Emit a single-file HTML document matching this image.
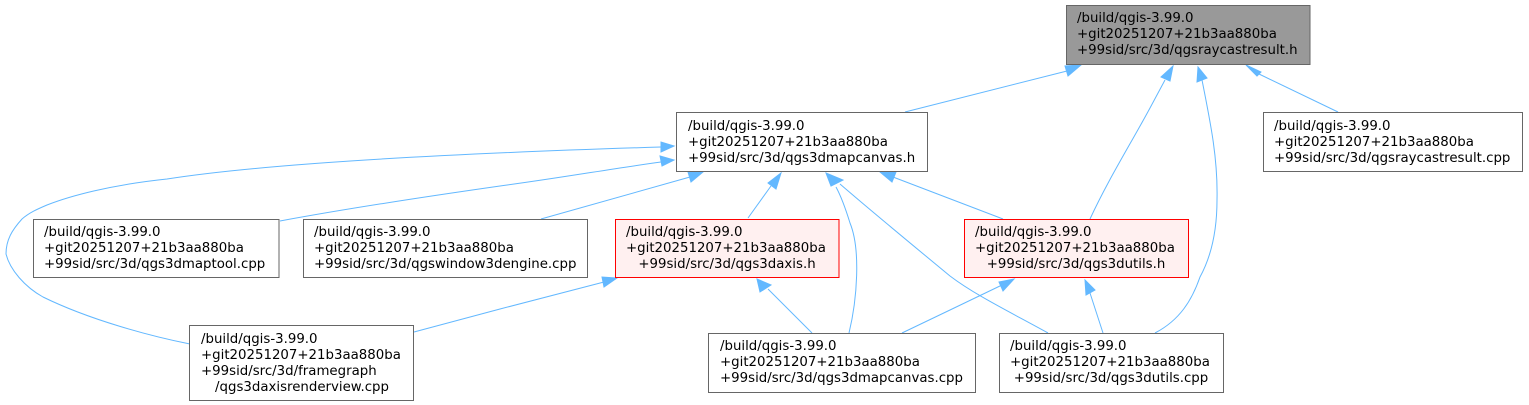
<!DOCTYPE html>
<html>
<head>
<meta charset="utf-8">
<style>
html,body{margin:0;padding:0;background:#fff;}
svg{display:block;}
text{font-family:"DejaVu Sans",sans-serif;font-size:13.33px;fill:#000;}
.b{fill:#fff;stroke:#666;stroke-width:1;}
.r{fill:#fff0f0;stroke:#f00;stroke-width:1;}
.g{fill:#999;stroke:#666;stroke-width:1;}
.e{fill:none;stroke:#63b8ff;stroke-width:1;}
.a{fill:#63b8ff;stroke:#63b8ff;stroke-width:1;}
</style>
</head>
<body>
<svg width="1529" height="405" viewBox="0 0 1529 405" xmlns="http://www.w3.org/2000/svg">
<rect x="0" y="0" width="1529" height="405" fill="#fff"/>

<!-- edges -->
<path class="e" d="M905,112 L1067,71"/>
<polygon class="a" points="1081,65 1068,76 1065,66"/>

<path class="e" d="M1090,219 C1108,180 1130,145 1150,108 L1165,80"/>
<polygon class="a" points="1173,66 1170,81 1161,77"/>

<path class="e" d="M1155,333 C1180,320 1192,300 1200,277 C1212,255 1217,230 1217,200 C1218,160 1211,125 1202,80"/>
<polygon class="a" points="1198,67 1207,78 1197,82"/>

<path class="e" d="M1338,112 L1259,74"/>
<polygon class="a" points="1246,65 1261,72 1257,76"/>

<path class="e" d="M280,221 C350,208 430,196 500,186 C560,178 610,169 661,162"/>
<polygon class="a" points="674,160 662,166 660,156"/>

<path class="e" d="M190,344 C150,336 90,320 43,297 C25,287 10,270 6,254 C6,240 12,230 22,219 C30,212 40,208 47,205 C70,196 110,185 167,179 C250,166 400,155 661,147"/>
<polygon class="a" points="674,146 661,152 661,142"/>

<path class="e" d="M541,219 L690,177"/>
<polygon class="a" points="703,172 691,182 688,172"/>

<path class="e" d="M748,218 L771,186"/>
<polygon class="a" points="781,173 776,189 768,183"/>

<path class="e" d="M849,333 C857,300 861,250 850,223 C846,210 842,198 836,187"/>
<path class="e" d="M1048,333 C1010,312 975,295 950,276 C910,243 870,210 840,184"/>
<polygon class="a" points="826,173 843,180 831,186"/>

<path class="e" d="M1003,219 L893,177"/>
<polygon class="a" points="880,172 896,172 892,182"/>

<path class="e" d="M414,332 L500,309 L604,282"/>
<polygon class="a" points="617,278 604,287 602,277"/>

<path class="e" d="M812,333 L768,289"/>
<polygon class="a" points="757,279 771,285 760,292"/>

<path class="e" d="M902,333 L950,310 L1002,285"/>
<polygon class="a" points="1014,279 1003,291 999,282"/>

<path class="e" d="M1103,333 L1090,293"/>
<polygon class="a" points="1085,280 1095,290 1086,295"/>

<!-- nodes -->
<rect class="g" x="1066.5" y="5.5" width="243.5" height="59"/>
<text x="1077" y="22">/build/qgis-3.99.0</text>
<text x="1077" y="38">+git20251207+21b3aa880ba</text>
<text x="1077" y="54">+99sid/src/3d/qgsraycastresult.h</text>

<rect class="b" x="1263.5" y="112.5" width="259" height="59"/>
<text x="1274" y="130">/build/qgis-3.99.0</text>
<text x="1274" y="146">+git20251207+21b3aa880ba</text>
<text x="1274" y="162">+99sid/src/3d/qgsraycastresult.cpp</text>

<rect class="b" x="676.5" y="112.5" width="251" height="59"/>
<text x="688" y="130">/build/qgis-3.99.0</text>
<text x="688" y="146">+git20251207+21b3aa880ba</text>
<text x="688" y="162">+99sid/src/3d/qgs3dmapcanvas.h</text>

<rect class="b" x="33.5" y="219.5" width="245.5" height="58"/>
<text x="44" y="236">/build/qgis-3.99.0</text>
<text x="44" y="252">+git20251207+21b3aa880ba</text>
<text x="44" y="268">+99sid/src/3d/qgs3dmaptool.cpp</text>

<rect class="b" x="303.5" y="219.5" width="284" height="58"/>
<text x="314" y="236">/build/qgis-3.99.0</text>
<text x="314" y="252">+git20251207+21b3aa880ba</text>
<text x="314" y="268">+99sid/src/3d/qgswindow3dengine.cpp</text>

<rect class="r" x="615.5" y="219.5" width="223.5" height="58"/>
<text x="626" y="236">/build/qgis-3.99.0</text>
<text x="626" y="252">+git20251207+21b3aa880ba</text>
<text x="727" y="268" text-anchor="middle">+99sid/src/3d/qgs3daxis.h</text>

<rect class="r" x="964.5" y="219.5" width="224" height="58"/>
<text x="975" y="236">/build/qgis-3.99.0</text>
<text x="975" y="252">+git20251207+21b3aa880ba</text>
<text x="1076" y="268" text-anchor="middle">+99sid/src/3d/qgs3dutils.h</text>

<rect class="b" x="189.5" y="325.5" width="224" height="75"/>
<text x="201" y="343">/build/qgis-3.99.0</text>
<text x="201" y="359">+git20251207+21b3aa880ba</text>
<text x="201" y="375">+99sid/src/3d/framegraph</text>
<text x="302" y="391" text-anchor="middle">/qgs3daxisrenderview.cpp</text>

<rect class="b" x="708.5" y="333.5" width="267" height="59"/>
<text x="720" y="350">/build/qgis-3.99.0</text>
<text x="720" y="366">+git20251207+21b3aa880ba</text>
<text x="720" y="382">+99sid/src/3d/qgs3dmapcanvas.cpp</text>

<rect class="b" x="999.5" y="333.5" width="224" height="59"/>
<text x="1010" y="350">/build/qgis-3.99.0</text>
<text x="1010" y="366">+git20251207+21b3aa880ba</text>
<text x="1111" y="382" text-anchor="middle">+99sid/src/3d/qgs3dutils.cpp</text>
</svg>
</body>
</html>
